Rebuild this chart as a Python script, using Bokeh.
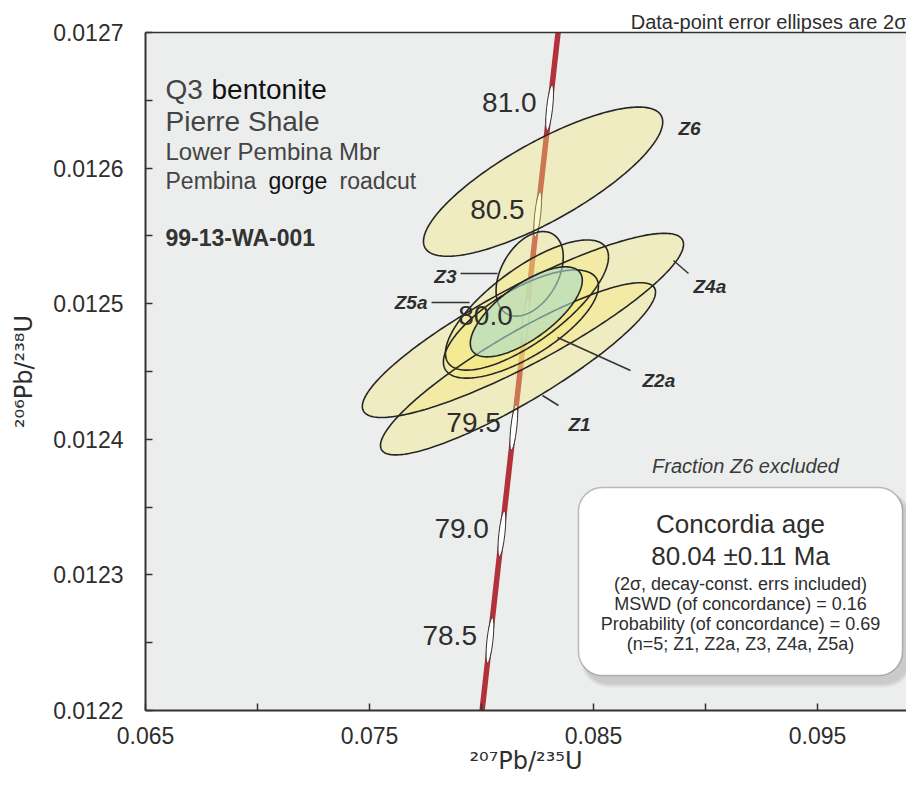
import numpy as np
from bokeh.plotting import figure
from bokeh.models import (Range1d, LinearAxis, FixedTicker, PrintfTickFormatter,
                          Label, BoxAnnotation)
from bokeh.core.properties import value
from bokeh.embed import file_html
from bokeh.resources import INLINE

# ---------------- data ----------------
fractions = ["Z6", "Z4a", "Z1", "Z5a", "Z2a", "Z3"]
pb207_u235 = [0.08275, 0.08185, 0.08163, 0.08203, 0.08176, 0.08215]
pb207_u235_2s = [0.00534, 0.00717, 0.00614, 0.00364, 0.00346, 0.00150]
pb206_u238 = [0.012590, 0.012484, 0.012452, 0.012499, 0.012485, 0.012522]
pb206_u238_2s = [0.0000550, 0.0000679, 0.0000635, 0.0000480, 0.0000399, 0.0000312]
err_corr = [0.80, 0.88, 0.89, 0.74, 0.70, 0.40]

conc_age_x = 0.08200
conc_age_x_2s = 0.00250
conc_age_y = 0.012494
conc_age_y_2s = 0.0000332
conc_age_rho = 0.70

age_marks_ma = [78.5, 79.0, 79.5, 80.0, 80.5, 81.0]
concordia_span_ma = [77.9, 81.6]
LAMBDA_238 = 1.55125e-10
LAMBDA_235 = 9.8485e-10

x_major = [0.065, 0.075, 0.085, 0.095]
x_minor = [0.070, 0.080, 0.090]
y_major = [0.0122, 0.0123, 0.0124, 0.0125, 0.0126, 0.0127]
y_minor = [0.01225, 0.01235, 0.01245, 0.01255, 0.01265]

box_lines = ["Concordia age", "80.04 \u00b10.11 Ma",
             "(2\u03c3, decay-const. errs included)",
             "MSWD (of concordance) = 0.16",
             "Probability (of concordance) = 0.69",
             "(n=5; Z1, Z2a, Z3, Z4a, Z5a)"]

x_title = "\u00b2\u2070\u2077Pb/\u00b2\u00b3\u2075U"
y_title = "\u00b2\u2070\u2076Pb/\u00b2\u00b3\u2078U"
note = "Data-point error ellipses are 2\u03c3"

# ---------------- layout helpers (picture pixel -> data) ----------------
FRAME_L_PX, FRAME_B_PX, FRAME_T_PX = 145, 710, 32
FIG_W, FIG_H = 906, 780
PX_PER_X = 22400.0
PX_PER_Y = 1356000.0


def px_x(px):
    return 0.065 + (px - FRAME_L_PX) / PX_PER_X


def px_y(py):
    return 0.0122 + (FRAME_B_PX - py) / PX_PER_Y


FONT = "Liberation Sans"
TITLE_FONT = "DejaVu Sans"
TXT = "#2e2e2e"

p = figure(width=FIG_W, height=FIG_H,
           x_range=Range1d(0.065, px_x(FIG_W)), y_range=Range1d(0.0122, 0.0127),
           output_backend="svg", toolbar_location=None,
           min_border_left=FRAME_L_PX, min_border_right=0,
           min_border_top=FRAME_T_PX, min_border_bottom=FIG_H - FRAME_B_PX,
           background_fill_color="#eceeed", border_fill_color="white",
           outline_line_color=None)
p.grid.visible = False

p.title.text = note
p.title.align = "right"
p.title.text_font = FONT
p.title.text_font_size = "20px"
p.title.text_font_style = "normal"
p.title.text_color = TXT
p.title.standoff = 0

for ax, ticks, minor, fmt in ((p.xaxis[0], x_major, x_minor, "%.3f"),
                              (p.yaxis[0], y_major, y_minor, "%.4f")):
    ax.ticker = FixedTicker(ticks=ticks, minor_ticks=minor)
    ax.formatter = PrintfTickFormatter(format=fmt)
    ax.major_tick_in = 7
    ax.major_tick_out = 0
    ax.minor_tick_in = 7
    ax.minor_tick_out = 0
    ax.major_tick_line_color = "#333333"
    ax.minor_tick_line_color = "#333333"
    ax.major_tick_line_width = 1.5
    ax.minor_tick_line_width = 1.5
    ax.axis_line_color = "#333333"
    ax.axis_line_width = 2
    ax.major_label_text_font = FONT
    ax.major_label_text_font_size = "23px"
    ax.major_label_text_color = TXT
    ax.axis_label_text_font = TITLE_FONT
    ax.axis_label_text_font_style = "normal"
    ax.axis_label_text_color = TXT

p.xaxis.major_label_standoff = 16
p.xaxis.axis_label = x_title
p.xaxis.axis_label_text_font_size = "24px"
p.xaxis.axis_label_standoff = 0

p.yaxis.major_label_standoff = 22
p.yaxis.axis_label = y_title
p.yaxis.axis_label_text_font_size = "24px"
p.yaxis.axis_label_standoff = 12

top_axis = LinearAxis(ticker=FixedTicker(ticks=[]), major_tick_in=0, major_tick_out=0,
                      minor_tick_in=0, minor_tick_out=0, major_label_text_font_size="0px",
                      major_label_standoff=0,
                      axis_line_color="#333333", axis_line_width=1.5)
p.add_layout(top_axis, "above")

# ---------------- concordia curve ----------------
t = np.linspace(concordia_span_ma[0], concordia_span_ma[1], 200) * 1e6
cx = np.exp(LAMBDA_235 * t) - 1
cy = np.exp(LAMBDA_238 * t) - 1
p.line(cx, cy, line_color="#b3313a", line_width=5.5)

ta = np.array(age_marks_ma) * 1e6
mx = np.exp(LAMBDA_235 * ta) - 1
my = np.exp(LAMBDA_238 * ta) - 1
p.ellipse(x=mx, y=my, width=6, height=46, width_units="screen", height_units="screen",
          angle=-0.11, fill_color="white", line_color="#333333", line_width=1)

# ---------------- error ellipses ----------------
theta = np.linspace(0, 2 * np.pi, 241)


def ellipse_xy(xc, xs, yc, ys, rho):
    ex = xc + xs * np.cos(theta)
    ey = yc + ys * (rho * np.cos(theta) + np.sqrt(1 - rho ** 2) * np.sin(theta))
    return list(ex), list(ey)


exs, eys = [], []
for i in range(len(fractions)):
    ex, ey = ellipse_xy(pb207_u235[i], pb207_u235_2s[i], pb206_u238[i],
                        pb206_u238_2s[i], err_corr[i])
    exs.append(ex)
    eys.append(ey)

p.patches(exs, eys, fill_color="#f6ea7a", fill_alpha=0.38, line_color=None)
p.multi_line(exs, eys, line_color="#262626", line_width=1.6)

gx, gy = ellipse_xy(conc_age_x, conc_age_x_2s, conc_age_y, conc_age_y_2s, conc_age_rho)
p.patch(gx, gy, fill_color="#a8dacf", fill_alpha=0.6, line_color=None)
p.line(gx, gy, line_color="#262626", line_width=1.6)

# age labels on concordia
p.text(x=mx, y=my + 5 / PX_PER_Y, text=[f"{a:.1f}" for a in age_marks_ma],
       x_offset=-13, text_align="right", text_baseline="middle",
       text_font=value(FONT), text_font_size="28px", text_color=TXT)

# leader lines
lead = [((460, 273), (497, 273)), ((431, 302), (469, 302)), ((557, 337), (630, 370)),
        ((542, 395), (558, 405)), ((673, 260), (688, 273))]
p.segment(x0=[px_x(a[0]) for a, b in lead], y0=[px_y(a[1]) for a, b in lead],
          x1=[px_x(b[0]) for a, b in lead], y1=[px_y(b[1]) for a, b in lead],
          line_color="#333333", line_width=1.5)


def label(text, x_px, y_px, size, align="left", baseline="middle", style="normal",
          color=TXT):
    p.add_layout(Label(x=px_x(x_px), y=px_y(y_px), text=text, text_font=FONT,
                       text_font_size=size, text_align=align, text_baseline=baseline,
                       text_font_style=style, text_color=color))


# fraction labels
label("Z6", 678, 128, "19px", style="bold italic")
label("Z4a", 693, 286, "19px", style="bold italic")
label("Z3", 456, 276, "19px", align="right", style="bold italic")
label("Z5a", 427, 302, "19px", align="right", style="bold italic")
label("Z2a", 642, 380, "19px", style="bold italic")
label("Z1", 568, 424, "19px", style="bold italic")

# sample description block
label("Q3", 165, 89, "28px", baseline="alphabetic", color="#444444")
label("bentonite", 211, 89, "28px", baseline="alphabetic", color="#111111")
label("Pierre Shale", 165, 121, "28px", baseline="alphabetic", color="#444444")
label("Lower Pembina Mbr", 165, 151, "24px", baseline="alphabetic", color="#444444")
label("Pembina", 165, 180, "23px", baseline="alphabetic", color="#444444")
label("gorge", 268, 180, "23px", baseline="alphabetic", color="#111111")
label("roadcut", 339, 180, "23px", baseline="alphabetic", color="#444444")
label("99-13-WA-001", 165, 237, "23px", baseline="alphabetic", style="bold",
      color="#333333")

# results box with soft shadow
for i in range(5):
    p.add_layout(BoxAnnotation(left=px_x(584 - i), right=px_x(908 + i),
                               top=px_y(495 - i), bottom=px_y(683 + i),
                               fill_color="#7a7a7a", fill_alpha=0.07, line_color=None,
                               border_radius=24 + i))
p.add_layout(BoxAnnotation(left=px_x(578), right=px_x(902), top=px_y(487),
                           bottom=px_y(675), fill_color="white", fill_alpha=1.0,
                           line_color="#333333", line_width=1.5, border_radius=24))

label("Fraction Z6 excluded", 745, 465, "20px", align="center", style="italic",
      color="#3a3a3a")
box_y = [523, 555, 583, 603, 623, 643]
box_size = ["26px", "26px", "18px", "18px", "18px", "18px"]
for txt, yy, sz in zip(box_lines, box_y, box_size):
    label(txt, 740, yy, sz, align="center")

open("out.html", "w").write(file_html(p, INLINE))
